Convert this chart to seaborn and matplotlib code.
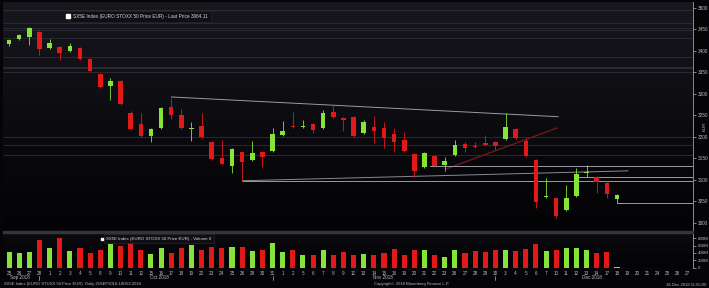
import numpy as np
import pandas as pd
import matplotlib
matplotlib.use("Agg")
import matplotlib.pyplot as plt
import matplotlib.transforms as mtransforms
from matplotlib.colors import LinearSegmentedColormap
import seaborn as sns

# ---------------- data ----------------
DAY_LABELS = ["25", "26", "27", "28",
              "1", "2", "3", "4", "5", "8", "9", "10", "11", "12", "15", "16", "17", "18", "19",
              "22", "23", "24", "25", "26", "29", "30", "31",
              "1", "2", "5", "6", "7", "8", "9", "12", "13", "14", "15", "16", "19", "20", "21",
              "22", "23", "26", "27", "28", "29", "30",
              "3", "4", "5", "6", "7", "10", "11", "12", "13", "14", "17", "18", "19", "20", "21",
              "24", "25", "26", "27"]
MONTH_LABELS = ["Sep 2018", "Oct 2018", "Nov 2018", "Dec 2018"]
MONTH_POS = [1.1, 14.8, 36.9, 57.5]
MONTH_END_POS = [3, 26, 48]

OPEN = [3416, 3428, 3433, 3444, 3407, 3409, 3400, 3407, 3381, 3346,
        3319, 3330, 3256, 3230, 3202, 3221, 3270, 3251, 3219, 3226,
        3188, 3151, 3133, 3165, 3147, 3165, 3167, 3205, 3226, 3223,
        3230, 3221, 3258, 3244, 3247, 3209, 3223, 3221, 3207, 3193,
        3160, 3130, 3156, 3135, 3158, 3184, 3179, 3186, 3188, 3195,
        3219, 3191, 3147, 3060, 3058, 3030, 3063, 3116, 3107, 3093, 3056]
HIGH = [3428, 3440, 3455, 3446, 3428, 3411, 3419, 3409, 3383, 3348,
        3337, 3332, 3260, 3256, 3221, 3270, 3291, 3265, 3235, 3256,
        3191, 3193, 3174, 3168, 3191, 3167, 3221, 3237, 3258, 3240,
        3232, 3263, 3274, 3246, 3249, 3240, 3249, 3235, 3221, 3212,
        3162, 3165, 3158, 3153, 3193, 3188, 3188, 3205, 3190, 3256,
        3221, 3198, 3149, 3105, 3060, 3088, 3128, 3135, 3109, 3095, 3066]
LOW = [3412, 3425, 3414, 3391, 3404, 3379, 3398, 3379, 3351, 3314,
       3286, 3275, 3217, 3200, 3188, 3219, 3242, 3219, 3191, 3198,
       3146, 3135, 3116, 3098, 3145, 3130, 3165, 3203, 3221, 3221,
       3209, 3219, 3245, 3214, 3200, 3207, 3186, 3174, 3165, 3165,
       3107, 3128, 3131, 3121, 3156, 3165, 3175, 3179, 3170, 3193,
       3196, 3154, 3035, 3058, 3012, 3028, 3061, 3107, 3070, 3058, 3047]
CLOSE = [3425, 3437, 3453, 3405, 3419, 3395, 3412, 3381, 3353, 3316,
         3330, 3277, 3219, 3202, 3219, 3267, 3251, 3221, 3221, 3200,
         3149, 3137, 3172, 3142, 3163, 3153, 3207, 3214, 3223, 3226,
         3216, 3256, 3247, 3240, 3202, 3235, 3214, 3198, 3188, 3167,
         3121, 3163, 3133, 3144, 3181, 3174, 3177, 3181, 3179, 3223,
         3198, 3156, 3049, 3063, 3016, 3058, 3114, 3119, 3095, 3067, 3064.11]
VOLUME_M = [419, 402, 438, 740, 529, 814, 447, 529, 402, 466,
            649, 584, 677, 493, 375, 529, 402, 529, 630, 466,
            557, 539, 557, 575, 447, 466, 677, 420, 466, 356,
            356, 466, 347, 438, 329, 375, 356, 402, 511, 329,
            466, 466, 329, 283, 466, 402, 447, 420, 466, 466,
            447, 511, 649, 447, 466, 539, 539, 466, 402, 420, 27]

PRICE_TICKS = [3000, 3050, 3100, 3150, 3200, 3250, 3300, 3350, 3400, 3450, 3500]
VOL_TICKS = [0, 200, 400, 600, 800]
VOL_TICK_LABELS = ["0", "200M", "400M", "600M", "800M"]

# annotation lines (x index, price)
UPPER_TREND = ([16, 54.2], [3293, 3247])
RED_TREND = ([43.2, 54.1], [3126, 3221])
RISING_TREND = ([23, 61.1], [3098, 3121])
SUPPORT_LINES = [(23, 3098), (41.5, 3133), (56, 3107), (60, 3047)]
FAINT_LINES = [3495, 3465, 3453, 3449, 3430, 3386, 3363, 3361, 3351, 3200, 3181, 3158]

GREEN = "#86e33a"
RED = "#e0191b"
TXT = "#b8b8c0"

# ---------------- figure ----------------
sns.set_theme(style="dark")
plt.rcParams["font.family"] = ["Liberation Sans", "DejaVu Sans"]

W, H = 709, 288
fig = plt.figure(figsize=(W / 100, H / 100), dpi=100, facecolor="#050507")

def ax_rect(x0, y0, x1, y1):
    return [x0 / W, 1 - y1 / H, (x1 - x0) / W, (y1 - y0) / H]

axp = fig.add_axes(ax_rect(3, 2, 693, 231))
axv = fig.add_axes(ax_rect(3, 233, 693, 267.5), sharex=axp)

# separator strip
fig.patches.append(plt.Rectangle((3 / W, 1 - 233 / H), 690 / W, 2 / H,
                                 transform=fig.transFigure, color="#34343c", zorder=0))

grad_p = LinearSegmentedColormap.from_list("gp", ["#030305", "#0c0c11", "#17171e"])
grad_v = LinearSegmentedColormap.from_list("gv", ["#030305", "#0b0b10"])
for a, cm in ((axp, grad_p), (axv, grad_v)):
    a.imshow(np.linspace(0, 1, 256).reshape(-1, 1), cmap=cm, origin="lower",
             extent=[0, 1, 0, 1], transform=a.transAxes, aspect="auto", zorder=0)
    a.set_facecolor("#050507")

n = len(OPEN)
df = pd.DataFrame({"idx": np.arange(n), "open": OPEN, "high": HIGH, "low": LOW,
                   "close": CLOSE, "vol": np.array(VOLUME_M) * 1e6})
df["dir"] = np.where(df["close"] >= df["open"], "up", "down")
colors = df["dir"].map({"up": GREEN, "down": RED})

# wicks
axp.vlines(df["idx"], df["low"], df["high"], colors=colors, linewidth=0.6, zorder=3)
# bodies
body_h = np.maximum((df["close"] - df["open"]).abs(), 2.2)
body_b = np.minimum(df["open"], df["close"])
axp.bar(df["idx"], body_h, bottom=body_b, width=0.45, color=colors, linewidth=0, zorder=4)

# annotations
for yv in FAINT_LINES:
    axp.axhline(yv, color="#2e2e36", linewidth=0.6, zorder=1)
axp.plot(*UPPER_TREND, color="#9a9aa0", linewidth=0.7, zorder=2)
axp.plot(*RED_TREND, color="#7a1a18", linewidth=0.9, zorder=2)
axp.plot(*RISING_TREND, color="#8a8a90", linewidth=0.7, zorder=2)
for x0, yv in SUPPORT_LINES:
    axp.plot([x0, 67.5], [yv, yv], color="#9a9aa0", linewidth=0.7, zorder=2)

XL = (-0.6, 67.5)
axp.set_xlim(*XL)
axp.set_ylim(2981, 3514)
axp.yaxis.tick_right()
axp.set_yticks(PRICE_TICKS)
axp.set_yticklabels([str(t) for t in PRICE_TICKS])
axp.tick_params(axis="y", colors="#9a9aa0", labelcolor=TXT, labelsize=3.4, length=2,
                width=0.6, pad=1.5, right=True, left=False)
axp.tick_params(axis="x", bottom=False, labelbottom=False)
for s in axp.spines.values():
    s.set_visible(False)
axp.spines["right"].set_visible(True)
axp.spines["right"].set_color("#8a8a90")
axp.spines["right"].set_linewidth(0.7)
axp.grid(False)
axp.text(1.0175, 0.455, "EUR", transform=axp.transAxes, rotation=90, fontsize=3.2,
         color=TXT, ha="center", va="center")

# legend box price
axp.text(6.3, 3481, "SX5E Index (EURO STOXX 50 Price EUR) - Last Price 3064.11",
         fontsize=3.4, color="#d8d8dc", va="center", ha="left",
         bbox=dict(boxstyle="square,pad=0.6", fc="#0e0e13", ec="#26262e", lw=0.5), zorder=6)
axp.plot([5.85], [3481], marker="s", ms=2.2, color="white", zorder=7)

# volume with seaborn
sns.barplot(data=df, x="idx", y="vol", hue="dir", palette={"up": GREEN, "down": RED},
            native_scale=True, dodge=False, width=0.5, saturation=1, legend=False,
            linewidth=0, ax=axv, zorder=3)
axv.set_xlim(*XL)
axv.set_ylim(0, 945e6)
axv.yaxis.tick_right()
axv.set_yticks([t * 1e6 for t in VOL_TICKS])
axv.set_yticklabels(VOL_TICK_LABELS)
axv.tick_params(axis="y", colors="#9a9aa0", labelcolor=TXT, labelsize=3.2, length=2,
                width=0.6, pad=1.5, right=True, left=False)
axv.set_xticks(np.arange(len(DAY_LABELS)))
axv.set_xticklabels(DAY_LABELS)
axv.tick_params(axis="x", labelsize=3.3, labelcolor=TXT, length=0, pad=2.3, bottom=True,
                labelbottom=True)
axv.set_xlabel("")
axv.set_ylabel("")
for s in axv.spines.values():
    s.set_visible(False)
axv.spines["right"].set_visible(True)
axv.spines["right"].set_color("#8a8a90")
axv.spines["right"].set_linewidth(0.7)
axv.grid(False)

axv.text(9.6, 790e6, "SX5E Index (EURO STOXX 50 Price EUR) - Volume 0", fontsize=3.2,
         color="#d8d8dc", va="center", ha="left",
         bbox=dict(boxstyle="square,pad=0.6", fc="#0e0e13", ec="#26262e", lw=0.5), zorder=6)
axv.plot([9.15], [790e6], marker="s", ms=2.0, color="white", zorder=7)

trans = mtransforms.blended_transform_factory(axv.transData, axv.transAxes)
for lab, pos in zip(MONTH_LABELS, MONTH_POS):
    axv.text(pos, -0.30, lab, transform=trans, fontsize=3.3, color=TXT, ha="center", va="center",
             clip_on=False)
for pos in MONTH_END_POS:
    axv.plot([pos, pos], [-0.24, -0.36], transform=trans, color=TXT, lw=0.5, clip_on=False)

# footer
fig.text(4 / W, 1 - 284.5 / H, "SX5E Index (EURO STOXX 50 Price EUR)  Daily 25SEP2018-18DEC2018",
         fontsize=3.0, color=TXT, va="center", ha="left")
fig.text(412 / W, 1 - 284 / H, "Copyright\u00a9 2018 Bloomberg Finance L.P.",
         fontsize=3.0, color=TXT, va="center", ha="center")
fig.text(706 / W, 1 - 284.5 / H, "18-Dec-2018 11:05:00", fontsize=3.0, color=TXT,
         va="center", ha="right")

fig.savefig("out.png", dpi=100, facecolor=fig.get_facecolor())
